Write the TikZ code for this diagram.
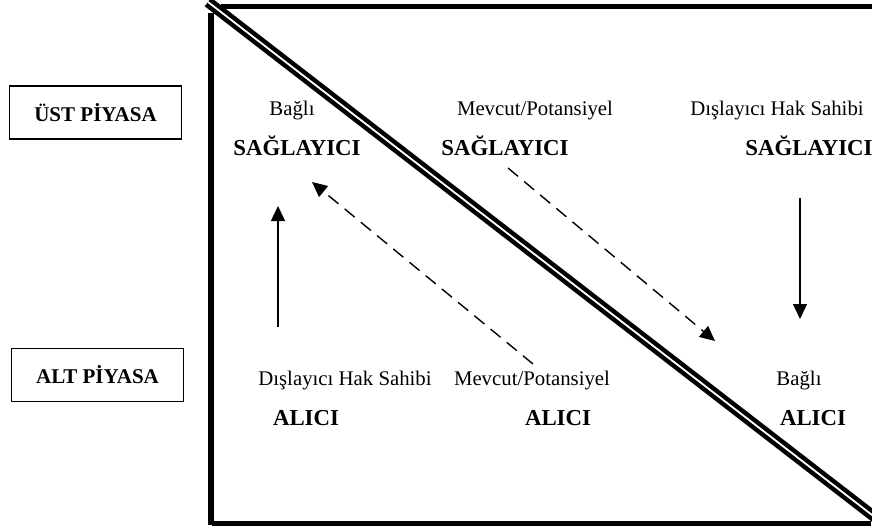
\documentclass[tikz,border=0pt]{standalone}
\usepackage{fontspec}
\setmainfont{Liberation Serif}
\usetikzlibrary{arrows.meta}
\begin{document}
\begin{tikzpicture}[x=0.5pt,y=-0.5pt,
  reg/.style={anchor=base,inner sep=0pt,font=\fontsize{10.4}{12}\selectfont},
  bld/.style={anchor=base,inner sep=0pt,font=\fontsize{11.4}{13}\selectfont\bfseries},
  lbl/.style={draw,line width=0.75pt,inner sep=0pt,minimum width=86pt,minimum height=26.5pt,font=\fontsize{10.5}{12}\selectfont\bfseries},
  framestroke/.style={line width=2.6pt},
  arr/.style={line width=0.7pt,-{Triangle[width=7pt,length=7.5pt]}},
  darr/.style={arr,dash pattern=on 6.5pt off 4pt}]
\useasboundingbox (0,0) rectangle (872,530);
\clip (0,0) rectangle (872,530);
% market labels
\node[lbl] (ust) at (95.5,112.5) {ÜST PİYASA};
\node[lbl] (alt) at (97.5,375) {ALT PİYASA};
% frame
\draw[framestroke] (211,13) -- (211,525);
\draw[framestroke] (221,6.5) -- (880,6.5);
\draw[framestroke] (212,523.5) -- (871,523.5);
% double diagonal
\draw[line width=2.25pt,double,double distance=0.9pt] (208,2) -- (885,525);
% upper row
\node[reg] (b1) at (292,115) {Bağlı};
\node[bld] (s1) at (297,155) {SAĞLAYICI};
\node[reg] (m1) at (535,115) {Mevcut/Potansiyel};
\node[bld] (s2) at (505,155) {SAĞLAYICI};
\node[reg] (d1) at (777,115) {Dışlayıcı Hak Sahibi};
\node[bld] (s3) at (809,155) {SAĞLAYICI};
% lower row
\node[reg] (d2) at (345,385) {Dışlayıcı Hak Sahibi};
\node[bld] (a1) at (306,425) {ALICI};
\node[reg] (m2) at (532,385) {Mevcut/Potansiyel};
\node[bld] (a2) at (558,425) {ALICI};
\node[reg] (b2) at (799,385) {Bağlı};
\node[bld] (a3) at (813,425) {ALICI};
% arrow end points
\coordinate (p1) at (278,327);
\coordinate (q1) at (278,206);
\coordinate (p2) at (533,364);
\coordinate (q2) at (312,182);
\coordinate (p3) at (508,168);
\coordinate (q3) at (715,341);
\coordinate (p4) at (800,198);
\coordinate (q4) at (800,319);
\draw[arr] (p1) -- (q1);
\draw[darr] (p2) -- (q2);
\draw[darr] (p3) -- (q3);
\draw[arr] (p4) -- (q4);
\end{tikzpicture}
\end{document}
